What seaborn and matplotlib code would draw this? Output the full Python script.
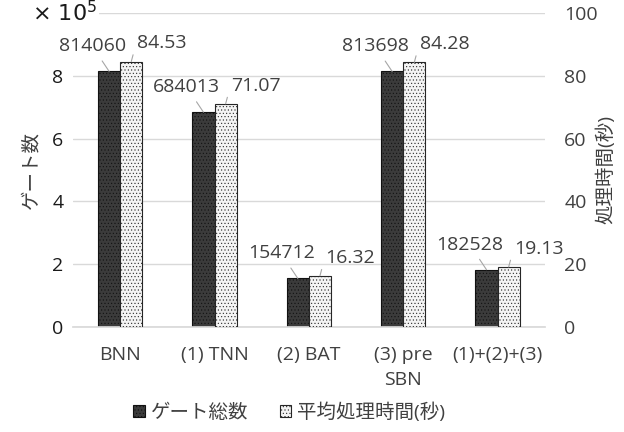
import pandas as pd
import seaborn as sns
import matplotlib.pyplot as plt
from matplotlib.patches import Patch

# Chart data
categories = ['BNN', '(1) TNN', '(2) BAT', '(3) pre\nSBN', '(1)+(2)+(3)']
gate_counts = [814060, 684013, 154712, 813698, 182528]
avg_times = [84.53, 71.07, 16.32, 84.28, 19.13]
series_names = ['ゲート総数', '平均処理時間(秒)']

sns.set_theme(style='white')
plt.rcParams['font.family'] = ['Open Sans', 'Noto Sans CJK JP', 'DejaVu Sans']
plt.rcParams['hatch.linewidth'] = 0.4

TEXT = '#404040'
GRID = '#d9d9d9'
DARK = '#3b3b3b'
LIGHT = '#f4f4f4'
FS = 14

# each axis gets both series so seaborn dodges them; the other series is zero and hidden
n = len(categories)
left_df = pd.DataFrame({'category': categories * 2,
                        'value': [g / 1e5 for g in gate_counts] + [0] * n,
                        'series': [series_names[0]] * n + [series_names[1]] * n})
right_df = pd.DataFrame({'category': categories * 2,
                         'value': [0] * n + avg_times,
                         'series': [series_names[0]] * n + [series_names[1]] * n})

fig = plt.figure(figsize=(6.24, 4.32), dpi=100)
ax1 = fig.add_axes([0.117, 0.243, 0.756, 0.727])
ax2 = ax1.twinx()

edges = ['#111111', '#262626']
sns.barplot(data=left_df, x='category', y='value', hue='series', hue_order=series_names,
            order=categories, palette=[DARK, LIGHT], width=0.47, ax=ax1, legend=False,
            linewidth=0.8)
sns.barplot(data=right_df, x='category', y='value', hue='series', hue_order=series_names,
            order=categories, palette=[DARK, LIGHT], width=0.47, ax=ax2, legend=False,
            linewidth=0.8)

gate_bars = ax1.patches[:n]
time_bars = ax2.patches[n:]
for p in ax1.patches[n:]:
    p.set_visible(False)
for p in ax2.patches[:n]:
    p.set_visible(False)
for p in gate_bars:
    p.set_hatch('.....')
    p.set_edgecolor(edges[0])
for p in time_bars:
    p.set_hatch('.....')
    p.set_edgecolor(edges[1])

ax1.set_ylim(0, 10)
ax2.set_ylim(0, 100)
ax1.set_yticks([0, 2, 4, 6, 8, 10])
ax1.set_yticklabels(['0', '2', '4', '6', '8', ''])
ax2.set_yticks([0, 20, 40, 60, 80, 100])
ax1.yaxis.grid(True, color=GRID, linewidth=1)
ax1.set_axisbelow(True)
ax1.set_xlim(-0.5, 4.5)

for ax in (ax1, ax2):
    for s in ax.spines.values():
        s.set_visible(False)
    ax.tick_params(length=0, labelsize=FS, colors=TEXT)
ax1.spines['bottom'].set_visible(True)
ax1.spines['bottom'].set_color(GRID)
ax1.tick_params(axis='y', pad=7, colors='#1a1a1a')
ax2.tick_params(axis='y', pad=14)
ax1.tick_params(axis='x', pad=14)
for lab in ax1.get_xticklabels():
    lab.set_linespacing(1.45)

ax1.set_xlabel('')
ax1.set_ylabel('ゲート数', fontsize=FS, color=TEXT, labelpad=8)
ax2.set_ylabel('処理時間(秒)', fontsize=FS, color=TEXT, labelpad=-1)
ax1.text(-0.017, 1.0, r'$\times\ 10^5$', transform=ax1.transAxes, fontsize=16,
         color='#1a1a1a', ha='center', va='center', family='DejaVu Sans',
         bbox=dict(facecolor='white', edgecolor='none', pad=1))

# data labels with leader lines
line_style = dict(arrowstyle='-', color='#a6a6a6', linewidth=0.8, shrinkA=2, shrinkB=0)
for p, v in zip(gate_bars, gate_counts):
    cx = p.get_x() + p.get_width() / 2
    ax1.annotate(f'{v}', (cx, p.get_height()), xytext=(-12, 18), textcoords='offset points',
                 ha='center', va='center', fontsize=FS, color=TEXT, arrowprops=line_style)
for p, v in zip(time_bars, avg_times):
    cx = p.get_x() + p.get_width() / 2
    ax2.annotate(f'{v:.2f}', (cx, p.get_height()), xytext=(22, 13), textcoords='offset points',
                 ha='center', va='center', fontsize=FS, color=TEXT,
                 arrowprops=dict(line_style, connectionstyle='angle,angleA=0,angleB=75,rad=0'))

handles = [Patch(facecolor=DARK, edgecolor=edges[0], hatch='.....', linewidth=0.8),
           Patch(facecolor=LIGHT, edgecolor=edges[1], hatch='.....', linewidth=0.8)]
fig.legend(handles, series_names, loc='center', bbox_to_anchor=(0.4635, 0.046), ncol=2,
           frameon=False, fontsize=FS, handlelength=0.6, handleheight=0.6,
           handletextpad=0.3, columnspacing=1.6, labelcolor=TEXT)

fig.savefig('out.png', dpi=100)
